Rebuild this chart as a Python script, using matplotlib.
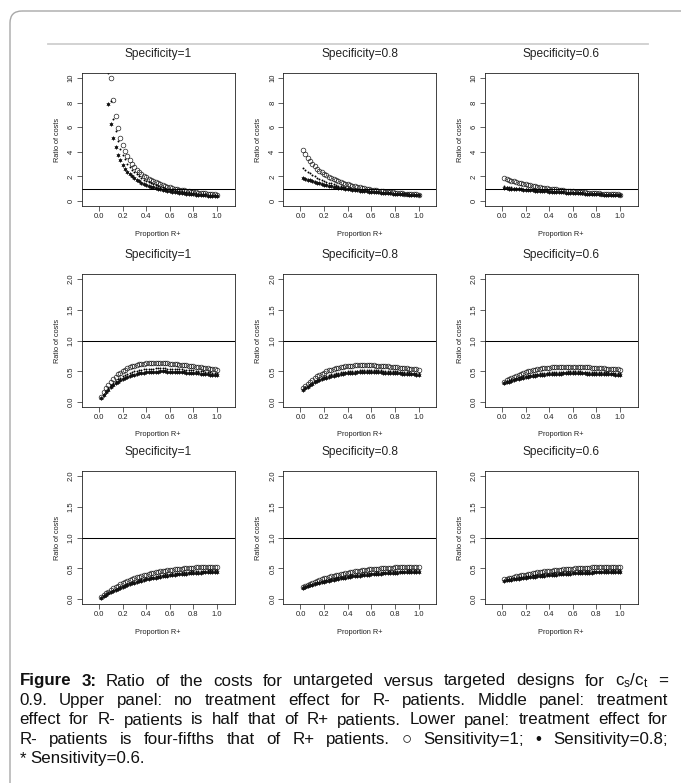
import matplotlib
matplotlib.use("Agg")
import matplotlib.pyplot as plt
from matplotlib.patches import FancyBboxPatch

plt.rcParams['font.family'] = ['Liberation Sans', 'DejaVu Sans']
plt.rcParams['mathtext.fontset'] = 'custom'
plt.rcParams['mathtext.rm'] = 'Liberation Sans'
plt.rcParams['mathtext.it'] = 'Liberation Sans:italic'
plt.rcParams['mathtext.bf'] = 'Liberation Sans:bold'

W, H, DPI = 681, 783, 100

# proportion of R+ patients (x axis, same for every panel)
prop_r = [0.02, 0.04, 0.06, 0.08, 0.10, 0.12, 0.14, 0.16, 0.18, 0.20,
          0.22, 0.24, 0.26, 0.28, 0.30, 0.32, 0.34, 0.36, 0.38, 0.40,
          0.42, 0.44, 0.46, 0.48, 0.50, 0.52, 0.54, 0.56, 0.58, 0.60,
          0.62, 0.64, 0.66, 0.68, 0.70, 0.72, 0.74, 0.76, 0.78, 0.80,
          0.82, 0.84, 0.86, 0.88, 0.90, 0.92, 0.94, 0.96, 0.98, 1.00]

# ---- upper panel: no treatment effect for R- ----
upper_sp1_o = [54.35, 26.60, 17.36, 12.76, 10.00, 8.17, 6.87, 5.90, 5.14, 4.55,
               4.06, 3.65, 3.32, 3.03, 2.78, 2.56, 2.37, 2.20, 2.06, 1.92,
               1.80, 1.70, 1.60, 1.51, 1.43, 1.35, 1.29, 1.22, 1.16, 1.11,
               1.06, 1.01, 0.97, 0.93, 0.89, 0.86, 0.82, 0.79, 0.76, 0.74,
               0.71, 0.68, 0.66, 0.64, 0.62, 0.60, 0.58, 0.56, 0.54, 0.53]
upper_sp1_dot = [43.67, 21.46, 14.06, 10.37, 8.16, 6.69, 5.65, 4.86, 4.26, 3.77,
                 3.38, 3.05, 2.78, 2.54, 2.34, 2.16, 2.01, 1.87, 1.75, 1.64,
                 1.54, 1.45, 1.37, 1.30, 1.23, 1.17, 1.11, 1.06, 1.01, 0.97,
                 0.92, 0.89, 0.85, 0.81, 0.78, 0.75, 0.72, 0.70, 0.67, 0.65,
                 0.63, 0.61, 0.59, 0.57, 0.55, 0.53, 0.52, 0.50, 0.48, 0.47]
upper_sp1_star = [32.89, 16.23, 10.68, 7.91, 6.25, 5.14, 4.36, 3.77, 3.31, 2.94,
                  2.64, 2.39, 2.19, 2.01, 1.85, 1.72, 1.60, 1.49, 1.40, 1.32,
                  1.24, 1.17, 1.11, 1.05, 1.00, 0.95, 0.91, 0.87, 0.83, 0.79,
                  0.76, 0.73, 0.70, 0.67, 0.65, 0.63, 0.60, 0.58, 0.56, 0.54,
                  0.53, 0.51, 0.49, 0.48, 0.46, 0.45, 0.44, 0.42, 0.41, 0.40]

upper_sp08_o = [4.15, 3.81, 3.51, 3.25, 3.03, 2.82, 2.64, 2.48, 2.34, 2.20,
                2.08, 1.97, 1.87, 1.78, 1.70, 1.62, 1.54, 1.48, 1.41, 1.35,
                1.30, 1.25, 1.20, 1.15, 1.11, 1.07, 1.03, 1.00, 0.96, 0.93,
                0.90, 0.87, 0.84, 0.82, 0.79, 0.77, 0.75, 0.72, 0.70, 0.68,
                0.67, 0.65, 0.63, 0.61, 0.60, 0.58, 0.57, 0.55, 0.54, 0.53]
upper_sp08_dot = [2.72, 2.54, 2.39, 2.25, 2.12, 2.01, 1.90, 1.81, 1.72, 1.64,
                  1.56, 1.50, 1.43, 1.37, 1.32, 1.26, 1.21, 1.17, 1.13, 1.09,
                  1.05, 1.01, 0.98, 0.94, 0.91, 0.89, 0.86, 0.83, 0.81, 0.78,
                  0.76, 0.74, 0.72, 0.70, 0.68, 0.66, 0.64, 0.63, 0.61, 0.60,
                  0.58, 0.57, 0.55, 0.54, 0.53, 0.52, 0.50, 0.49, 0.48, 0.47]
upper_sp08_star = [1.91, 1.83, 1.75, 1.68, 1.61, 1.55, 1.49, 1.43, 1.38, 1.33,
                   1.29, 1.24, 1.20, 1.16, 1.13, 1.09, 1.06, 1.03, 1.00, 0.97,
                   0.94, 0.92, 0.89, 0.87, 0.85, 0.82, 0.80, 0.78, 0.76, 0.75,
                   0.73, 0.71, 0.70, 0.68, 0.66, 0.65, 0.64, 0.62, 0.61, 0.60,
                   0.58, 0.57, 0.56, 0.55, 0.54, 0.53, 0.52, 0.51, 0.50, 0.49]

upper_sp06_o = [1.85, 1.78, 1.72, 1.66, 1.60, 1.54, 1.49, 1.44, 1.40, 1.35,
                1.31, 1.27, 1.24, 1.20, 1.16, 1.13, 1.10, 1.07, 1.04, 1.01,
                0.99, 0.96, 0.94, 0.92, 0.89, 0.87, 0.85, 0.83, 0.81, 0.79,
                0.77, 0.76, 0.74, 0.72, 0.71, 0.69, 0.68, 0.67, 0.65, 0.64,
                0.63, 0.61, 0.60, 0.59, 0.58, 0.57, 0.56, 0.55, 0.54, 0.53]
upper_sp06_dot = [1.20, 1.17, 1.14, 1.11, 1.09, 1.06, 1.04, 1.01, 0.99, 0.97,
                  0.94, 0.92, 0.90, 0.89, 0.87, 0.85, 0.83, 0.81, 0.80, 0.78,
                  0.77, 0.75, 0.74, 0.72, 0.71, 0.70, 0.69, 0.67, 0.66, 0.65,
                  0.64, 0.63, 0.62, 0.61, 0.60, 0.59, 0.58, 0.57, 0.56, 0.55,
                  0.54, 0.53, 0.52, 0.52, 0.51, 0.50, 0.49, 0.48, 0.48, 0.47]
upper_sp06_star = [1.04, 1.03, 1.01, 1.00, 0.98, 0.97, 0.95, 0.94, 0.92, 0.91,
                   0.89, 0.88, 0.87, 0.85, 0.84, 0.83, 0.81, 0.80, 0.79, 0.77,
                   0.76, 0.75, 0.74, 0.73, 0.71, 0.70, 0.69, 0.68, 0.67, 0.66,
                   0.65, 0.64, 0.63, 0.62, 0.61, 0.60, 0.59, 0.58, 0.57, 0.56,
                   0.55, 0.54, 0.53, 0.52, 0.51, 0.50, 0.49, 0.48, 0.47, 0.46]

# ---- middle panel: R- effect is half that of R+ ----
middle_sp1_o = [0.084, 0.157, 0.223, 0.280, 0.331, 0.375, 0.414, 0.449, 0.479, 0.505,
                0.528, 0.548, 0.565, 0.579, 0.592, 0.602, 0.611, 0.618, 0.624, 0.628,
                0.631, 0.633, 0.635, 0.635, 0.635, 0.634, 0.632, 0.630, 0.628, 0.625,
                0.622, 0.618, 0.614, 0.610, 0.606, 0.601, 0.596, 0.591, 0.586, 0.581,
                0.576, 0.570, 0.565, 0.560, 0.554, 0.549, 0.543, 0.537, 0.532, 0.526]
middle_sp1_dot = [0.067, 0.127, 0.180, 0.228, 0.270, 0.307, 0.341, 0.370, 0.396, 0.419,
                  0.440, 0.457, 0.473, 0.487, 0.498, 0.508, 0.517, 0.524, 0.530, 0.535,
                  0.539, 0.542, 0.545, 0.546, 0.547, 0.547, 0.547, 0.546, 0.545, 0.543,
                  0.542, 0.539, 0.537, 0.534, 0.531, 0.528, 0.524, 0.521, 0.517, 0.513,
                  0.509, 0.505, 0.501, 0.497, 0.492, 0.488, 0.484, 0.479, 0.475, 0.471]
middle_sp1_star = [0.059, 0.112, 0.159, 0.201, 0.239, 0.272, 0.302, 0.329, 0.352, 0.373,
                   0.392, 0.408, 0.423, 0.436, 0.446, 0.456, 0.465, 0.472, 0.478, 0.483,
                   0.487, 0.490, 0.493, 0.495, 0.496, 0.497, 0.497, 0.497, 0.496, 0.495,
                   0.494, 0.492, 0.491, 0.488, 0.486, 0.484, 0.480, 0.478, 0.475, 0.471,
                   0.468, 0.465, 0.461, 0.458, 0.454, 0.451, 0.447, 0.443, 0.439, 0.436]

middle_sp08_o = [0.222, 0.260, 0.297, 0.330, 0.361, 0.390, 0.416, 0.439, 0.461, 0.480,
                 0.497, 0.513, 0.527, 0.539, 0.550, 0.559, 0.567, 0.574, 0.580, 0.585,
                 0.589, 0.592, 0.595, 0.596, 0.598, 0.598, 0.598, 0.598, 0.597, 0.596,
                 0.594, 0.592, 0.590, 0.587, 0.585, 0.582, 0.579, 0.575, 0.572, 0.568,
                 0.564, 0.560, 0.556, 0.552, 0.548, 0.544, 0.539, 0.535, 0.531, 0.526]
middle_sp08_dot = [0.212, 0.241, 0.268, 0.293, 0.317, 0.339, 0.359, 0.377, 0.394, 0.410,
                   0.424, 0.437, 0.448, 0.458, 0.468, 0.476, 0.483, 0.490, 0.495, 0.500,
                   0.504, 0.507, 0.510, 0.512, 0.514, 0.516, 0.516, 0.517, 0.517, 0.517,
                   0.516, 0.515, 0.514, 0.513, 0.511, 0.509, 0.507, 0.505, 0.503, 0.501,
                   0.498, 0.495, 0.492, 0.490, 0.487, 0.483, 0.480, 0.477, 0.474, 0.471]
middle_sp08_star = [0.199, 0.227, 0.252, 0.275, 0.298, 0.319, 0.337, 0.354, 0.370, 0.385,
                    0.399, 0.411, 0.421, 0.431, 0.440, 0.447, 0.454, 0.461, 0.465, 0.470,
                    0.474, 0.477, 0.479, 0.481, 0.483, 0.485, 0.485, 0.486, 0.486, 0.486,
                    0.485, 0.484, 0.483, 0.482, 0.480, 0.478, 0.477, 0.475, 0.473, 0.471,
                    0.468, 0.465, 0.462, 0.461, 0.458, 0.454, 0.451, 0.448, 0.446, 0.443]

middle_sp06_o = [0.332, 0.355, 0.376, 0.396, 0.414, 0.431, 0.447, 0.462, 0.475, 0.488,
                 0.499, 0.509, 0.518, 0.526, 0.534, 0.540, 0.546, 0.551, 0.556, 0.560,
                 0.563, 0.566, 0.568, 0.570, 0.571, 0.572, 0.573, 0.573, 0.573, 0.573,
                 0.572, 0.571, 0.570, 0.569, 0.567, 0.565, 0.563, 0.561, 0.559, 0.556,
                 0.554, 0.551, 0.548, 0.545, 0.542, 0.539, 0.536, 0.533, 0.530, 0.526]
middle_sp06_dot = [0.324, 0.339, 0.353, 0.367, 0.379, 0.391, 0.401, 0.412, 0.421, 0.429,
                   0.437, 0.445, 0.451, 0.457, 0.463, 0.468, 0.472, 0.476, 0.480, 0.483,
                   0.486, 0.489, 0.491, 0.492, 0.494, 0.495, 0.496, 0.497, 0.497, 0.497,
                   0.497, 0.497, 0.497, 0.496, 0.495, 0.494, 0.493, 0.492, 0.491, 0.489,
                   0.488, 0.486, 0.485, 0.483, 0.481, 0.479, 0.477, 0.475, 0.473, 0.471]
middle_sp06_star = [0.305, 0.319, 0.332, 0.345, 0.356, 0.368, 0.377, 0.387, 0.396, 0.403,
                    0.411, 0.418, 0.424, 0.430, 0.435, 0.440, 0.444, 0.447, 0.451, 0.454,
                    0.457, 0.460, 0.462, 0.462, 0.464, 0.465, 0.466, 0.467, 0.467, 0.467,
                    0.467, 0.467, 0.467, 0.466, 0.465, 0.464, 0.463, 0.462, 0.462, 0.460,
                    0.459, 0.457, 0.456, 0.454, 0.452, 0.450, 0.448, 0.447, 0.445, 0.443]

# ---- lower panel: R- effect is four-fifths that of R+ ----
lower_sp1_o = [0.034, 0.065, 0.095, 0.123, 0.149, 0.173, 0.196, 0.218, 0.239, 0.258,
               0.276, 0.293, 0.309, 0.324, 0.338, 0.351, 0.364, 0.376, 0.387, 0.397,
               0.407, 0.417, 0.425, 0.433, 0.441, 0.448, 0.455, 0.461, 0.467, 0.473,
               0.478, 0.483, 0.487, 0.491, 0.495, 0.499, 0.502, 0.505, 0.508, 0.511,
               0.513, 0.515, 0.517, 0.519, 0.521, 0.522, 0.523, 0.524, 0.526, 0.526]
lower_sp1_dot = [0.027, 0.053, 0.077, 0.100, 0.121, 0.142, 0.162, 0.180, 0.197, 0.214,
                 0.230, 0.245, 0.259, 0.272, 0.285, 0.297, 0.308, 0.319, 0.329, 0.339,
                 0.348, 0.357, 0.365, 0.373, 0.380, 0.387, 0.393, 0.400, 0.405, 0.411,
                 0.416, 0.421, 0.426, 0.430, 0.434, 0.438, 0.442, 0.445, 0.448, 0.451,
                 0.454, 0.456, 0.459, 0.461, 0.463, 0.465, 0.466, 0.468, 0.469, 0.471]
lower_sp1_star = [0.025, 0.049, 0.072, 0.094, 0.114, 0.133, 0.152, 0.169, 0.185, 0.201,
                  0.216, 0.230, 0.243, 0.256, 0.268, 0.279, 0.290, 0.300, 0.309, 0.318,
                  0.327, 0.335, 0.343, 0.350, 0.357, 0.364, 0.370, 0.376, 0.381, 0.386,
                  0.391, 0.396, 0.400, 0.404, 0.408, 0.412, 0.415, 0.418, 0.421, 0.424,
                  0.426, 0.429, 0.431, 0.433, 0.435, 0.437, 0.438, 0.440, 0.441, 0.442]

lower_sp08_o = [0.201, 0.219, 0.236, 0.252, 0.268, 0.283, 0.297, 0.311, 0.324, 0.336,
                0.348, 0.359, 0.370, 0.380, 0.389, 0.398, 0.407, 0.415, 0.423, 0.430,
                0.437, 0.444, 0.450, 0.456, 0.462, 0.467, 0.472, 0.476, 0.481, 0.485,
                0.489, 0.492, 0.496, 0.499, 0.502, 0.505, 0.507, 0.510, 0.512, 0.514,
                0.516, 0.518, 0.519, 0.521, 0.522, 0.523, 0.524, 0.525, 0.526, 0.526]
lower_sp08_dot = [0.196, 0.210, 0.223, 0.235, 0.247, 0.259, 0.270, 0.281, 0.291, 0.301,
                  0.311, 0.320, 0.328, 0.337, 0.344, 0.352, 0.359, 0.366, 0.373, 0.379,
                  0.385, 0.391, 0.396, 0.401, 0.406, 0.411, 0.416, 0.420, 0.424, 0.428,
                  0.431, 0.435, 0.438, 0.441, 0.444, 0.447, 0.449, 0.452, 0.454, 0.456,
                  0.458, 0.460, 0.462, 0.463, 0.465, 0.466, 0.467, 0.469, 0.470, 0.471]
lower_sp08_star = [0.184, 0.197, 0.209, 0.221, 0.233, 0.244, 0.254, 0.264, 0.274, 0.283,
                   0.292, 0.300, 0.309, 0.316, 0.324, 0.331, 0.338, 0.344, 0.350, 0.356,
                   0.362, 0.367, 0.372, 0.377, 0.382, 0.386, 0.391, 0.395, 0.398, 0.402,
                   0.405, 0.409, 0.412, 0.415, 0.417, 0.420, 0.422, 0.425, 0.427, 0.429,
                   0.431, 0.432, 0.434, 0.436, 0.437, 0.438, 0.439, 0.440, 0.441, 0.442]

lower_sp06_o = [0.319, 0.329, 0.339, 0.349, 0.358, 0.367, 0.375, 0.384, 0.392, 0.399,
                0.406, 0.413, 0.420, 0.426, 0.433, 0.438, 0.444, 0.449, 0.454, 0.459,
                0.464, 0.468, 0.472, 0.476, 0.480, 0.484, 0.487, 0.491, 0.494, 0.496,
                0.499, 0.502, 0.504, 0.506, 0.508, 0.511, 0.512, 0.514, 0.516, 0.517,
                0.519, 0.520, 0.521, 0.522, 0.523, 0.524, 0.525, 0.525, 0.526, 0.526]
lower_sp06_dot = [0.315, 0.322, 0.329, 0.335, 0.342, 0.348, 0.354, 0.360, 0.365, 0.370,
                  0.375, 0.380, 0.385, 0.390, 0.394, 0.399, 0.403, 0.407, 0.410, 0.414,
                  0.418, 0.421, 0.424, 0.427, 0.430, 0.433, 0.436, 0.438, 0.441, 0.443,
                  0.445, 0.448, 0.450, 0.452, 0.453, 0.455, 0.457, 0.458, 0.460, 0.461,
                  0.462, 0.464, 0.465, 0.466, 0.467, 0.468, 0.469, 0.469, 0.470, 0.471]
lower_sp06_star = [0.296, 0.303, 0.309, 0.315, 0.321, 0.327, 0.332, 0.338, 0.343, 0.348,
                   0.353, 0.358, 0.362, 0.366, 0.371, 0.375, 0.379, 0.382, 0.386, 0.389,
                   0.392, 0.396, 0.399, 0.402, 0.404, 0.407, 0.410, 0.412, 0.414, 0.417,
                   0.419, 0.421, 0.423, 0.424, 0.426, 0.428, 0.429, 0.431, 0.432, 0.433,
                   0.435, 0.436, 0.437, 0.438, 0.439, 0.440, 0.440, 0.441, 0.442, 0.442]

titles = ['Specificity=1', 'Specificity=0.8', 'Specificity=0.6']
xticks = [0.0, 0.2, 0.4, 0.6, 0.8, 1.0]
xtick_labels = ['0.0', '0.2', '0.4', '0.6', '0.8', '1.0']
upper_yticks = [0, 2, 4, 6, 8, 10]
upper_ytick_labels = ['0', '2', '4', '6', '8', '10']
other_yticks = [0.0, 0.5, 1.0, 1.5, 2.0]
other_ytick_labels = ['0.0', '0.5', '1.0', '1.5', '2.0']

panels = [
    [(upper_sp1_o, upper_sp1_dot, upper_sp1_star),
     (upper_sp08_o, upper_sp08_dot, upper_sp08_star),
     (upper_sp06_o, upper_sp06_dot, upper_sp06_star)],
    [(middle_sp1_o, middle_sp1_dot, middle_sp1_star),
     (middle_sp08_o, middle_sp08_dot, middle_sp08_star),
     (middle_sp06_o, middle_sp06_dot, middle_sp06_star)],
    [(lower_sp1_o, lower_sp1_dot, lower_sp1_star),
     (lower_sp08_o, lower_sp08_dot, lower_sp08_star),
     (lower_sp06_o, lower_sp06_dot, lower_sp06_star)],
]

for r, row in enumerate(panels):
    for c, trio in enumerate(row):
        for k, ser in enumerate(trio):
            if len(ser) != len(prop_r):
                raise ValueError(f"panel {r},{c} series {k}: {len(ser)} values")

caption = [
    "Figure 3: Ratio of the costs for untargeted versus targeted designs for $\\mathregular{c_s/c_t}$ =",
    "0.9. Upper panel: no treatment effect for R- patients. Middle panel: treatment",
    "effect for R- patients is half that of R+ patients. Lower panel: treatment effect for",
    "R- patients is four-fifths that of R+ patients. \u25cb Sensitivity=1; \u2022 Sensitivity=0.8;",
    "* Sensitivity=0.6.",
]

fig = plt.figure(figsize=(W / DPI, H / DPI), dpi=DPI)
bg = fig.add_axes([0, 0, 1, 1], zorder=0)
bg.set_xlim(0, W)
bg.set_ylim(H, 0)
bg.axis('off')

# page frame and rule
bg.add_patch(FancyBboxPatch((10, 11), 740, 840, boxstyle='round,pad=0,rounding_size=12',
                            fc='none', ec='#a8a8a8', lw=1.0))
bg.plot([48, 648], [43.5, 43.5], color='#cfcfcf', lw=1.3)

col_left = [81.5, 283, 484.5]
row_top = [73, 274, 471]
BW, BH = 153, 133
ink = '#222222'

for r in range(3):
    for c in range(3):
        l, t = col_left[c], row_top[r]
        ax = fig.add_axes([l / W, 1 - (t + BH) / H, BW / W, BH / H], zorder=2)
        o, d, s = panels[r][c]
        ax.plot(prop_r, o, linestyle='none', marker='o', ms=3.4, mfc='none', mec='#111111', mew=0.45)
        ax.plot(prop_r, d, linestyle='none', marker='o', ms=1.4, mfc='black', mec='black', mew=0)
        ax.plot(prop_r, s, linestyle='none', marker=(6, 2, 0), ms=2.8, mec='#111111', mew=0.4)
        ax.axhline(1, color='black', lw=0.75)
        ax.set_xlim(-0.148, 1.148)
        ax.set_xticks(xticks)
        ax.set_xticklabels(xtick_labels)
        if r == 0:
            ax.set_ylim(-0.4, 10.4)
            ax.set_yticks(upper_yticks)
            ax.set_yticklabels(upper_ytick_labels, rotation=90, va='center')
        else:
            ax.set_ylim(-0.08, 2.08)
            ax.set_yticks(other_yticks)
            ax.set_yticklabels(other_ytick_labels, rotation=90, va='center')
        ax.tick_params(direction='out', length=3.3, width=0.5, labelsize=5.5, pad=1.5,
                       color=ink, labelcolor=ink)
        for sp in ax.spines.values():
            sp.set_linewidth(0.6)
            sp.set_color(ink)
        bg.text(l + BW / 2, t - 19, titles[c], ha='center', va='center', fontsize=8.6, color=ink)
        bg.text(l + BW / 2, t + BH + 28, 'Proportion R+', ha='center', va='center',
                fontsize=5.3, color=ink)
        bg.text(l - 24, t + BH / 2, 'Ratio of costs', ha='center', va='center',
                rotation=90, fontsize=5.3, color=ink)

# justified caption
CAP_L, CAP_R = 19.5, 668
CAP_FS = 12.2
cap_y = [681, 700.5, 720, 739.5, 759]
renderer = fig.canvas.get_renderer()
for i, line in enumerate(caption):
    words = line.split(' ')
    arts = []
    for j, w in enumerate(words):
        bold = (i == 0 and j < 2)
        arts.append(bg.text(0, cap_y[i], w, fontsize=CAP_FS, ha='left', va='center',
                            fontweight='bold' if bold else 'normal', color='#111111'))
    widths = [a.get_window_extent(renderer).width for a in arts]
    if i < len(caption) - 1:
        gap = max((CAP_R - CAP_L - sum(widths)) / (len(arts) - 1), 2.0)
    else:
        gap = 0.278 * CAP_FS * DPI / 72
    x = CAP_L
    for a, w in zip(arts, widths):
        a.set_x(x)
        x += w + gap

fig.savefig('out.png', dpi=DPI)
